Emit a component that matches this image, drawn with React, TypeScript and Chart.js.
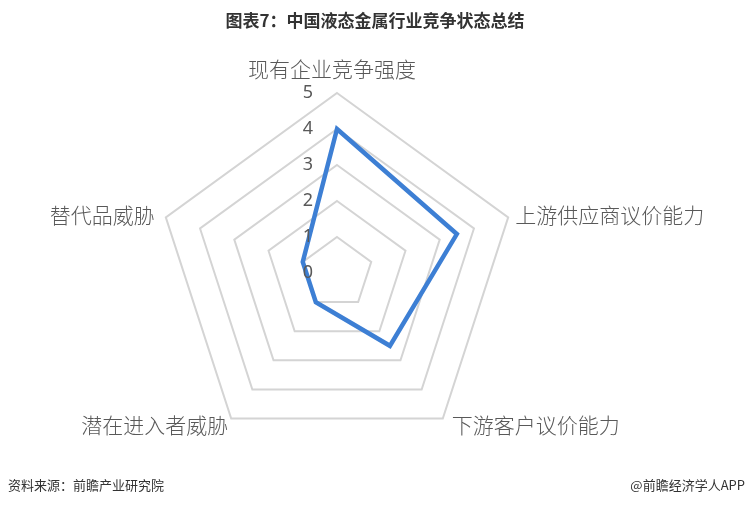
import React, { useEffect, useRef } from "react";
import { Chart, registerables } from "chart.js";

Chart.register(...registerables);

const categories = ["现有企业竞争强度", "上游供应商议价能力", "下游客户议价能力", "潜在进入者威胁", "替代品威胁"];
const values = [4, 3.5, 2.5, 1, 1];
const tickValues = [0, 1, 2, 3, 4, 5];
const titleText = "图表7：中国液态金属行业竞争状态总结";
const sourceText = "资料来源：前瞻产业研究院";
const creditText = "@前瞻经济学人APP";

const CJK = '"Noto Sans CJK SC", "Noto Sans", sans-serif';

const textPlugin = {
  id: "textPlugin",
  afterDraw(chart: any) {
    const ctx = chart.ctx;
    const r = chart.scales.r;
    ctx.save();
    ctx.textBaseline = "middle";

    // title
    ctx.fillStyle = "#333333";
    ctx.font = `bold 17px ${CJK}`;
    ctx.textAlign = "center";
    ctx.fillText(titleText, 375, 21);

    // footer
    ctx.font = `13px ${CJK}`;
    ctx.textAlign = "left";
    ctx.fillText(sourceText, 8, 485);
    ctx.textAlign = "right";
    ctx.fillText(creditText, 745, 485);

    // tick labels
    ctx.fillStyle = "#595959";
    ctx.font = `18px "Noto Sans", sans-serif`;
    ctx.textAlign = "center";
    tickValues.forEach((v) => {
      const d = r.getDistanceFromCenterForValue(v);
      ctx.fillText(String(v), r.xCenter - 29, r.yCenter - d);
    });

    // point labels
    const placements = [
      { dx: -5, dy: -24, align: "center" },
      { dx: 7, dy: -2, align: "left" },
      { dx: 9, dy: 6, align: "left" },
      { dx: -3, dy: 6, align: "right" },
      { dx: -11, dy: -2, align: "right" },
    ];
    ctx.font = `300 21px ${CJK}`;
    categories.forEach((label, i) => {
      const p = r.getPointPositionForValue(i, r.max);
      const pl = placements[i];
      ctx.textAlign = pl.align;
      ctx.fillText(label, p.x + pl.dx, p.y + pl.dy);
    });
    ctx.restore();
  },
};

export default function App() {
  const ref = useRef<HTMLCanvasElement | null>(null);
  useEffect(() => {
    document.body.style.margin = "0";
    const canvas = ref.current;
    if (!canvas) return;
    const chart = new Chart(canvas, {
      type: "radar",
      data: {
        labels: categories,
        datasets: [
          {
            data: values,
            borderColor: "#3d7fd4",
            backgroundColor: "transparent",
            borderWidth: 4.5,
            borderJoinStyle: "miter",
            fill: false,
            pointRadius: 0,
            pointHoverRadius: 0,
            tension: 0,
          },
        ],
      },
      options: {
        responsive: false,
        animation: false,
        layout: { padding: { left: 157, right: 233, top: 93, bottom: 53 } },
        plugins: {
          legend: { display: false },
          tooltip: { enabled: false },
          title: { display: false },
        },
        scales: {
          r: {
            min: 0,
            max: 5,
            ticks: { display: false, stepSize: 1 },
            grid: { color: "#d4d4d4", lineWidth: 2 },
            angleLines: { display: false },
            pointLabels: { display: false },
          },
        },
      },
      plugins: [textPlugin],
    } as any);
    return () => chart.destroy();
  }, []);
  return (
    <div style={{ position: "absolute", left: 0, top: 0, width: 750, height: 506, background: "#ffffff" }}>
      <canvas ref={ref} width={750} height={506} style={{ display: "block" }} />
    </div>
  );
}
